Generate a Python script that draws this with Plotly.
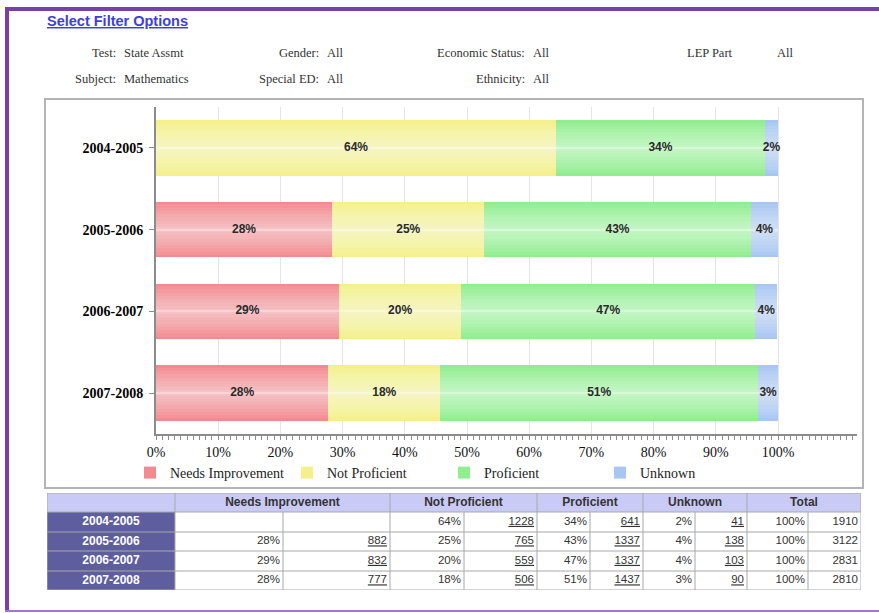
import numpy as np
import plotly.graph_objects as go

W, H = 879, 613


def px(x):
    return x / W


def py(y):
    return 1 - y / H


# ---------------- data ----------------
years = ["2004-2005", "2005-2006", "2006-2007", "2007-2008"]
levels = ["Needs Improvement", "Not Proficient", "Proficient", "Unknown"]

# bar lengths (percent of students)
needs_imp = [0.0, 28.3, 29.4, 27.7]
not_prof = [64.3, 24.5, 19.7, 18.0]
proficient = [33.6, 42.8, 47.2, 51.1]
unknown = [2.1, 4.4, 3.6, 3.2]

# segment labels / table percentages
needs_imp_pct = ["", "28%", "29%", "28%"]
not_prof_pct = ["64%", "25%", "20%", "18%"]
prof_pct = ["34%", "43%", "47%", "51%"]
unknown_pct = ["2%", "4%", "4%", "3%"]
total_pct = ["100%", "100%", "100%", "100%"]

# table counts
needs_imp_n = ["", "882", "832", "777"]
not_prof_n = ["1228", "765", "559", "506"]
prof_n = ["641", "1337", "1337", "1437"]
unknown_n = ["41", "138", "103", "90"]
total_n = ["1910", "3122", "2831", "2810"]

x_tick_vals = [0, 10, 20, 30, 40, 50, 60, 70, 80, 90, 100]
x_tick_text = ["0%", "10%", "20%", "30%", "40%", "50%", "60%", "70%", "80%", "90%", "100%"]

filter_labels_row1 = ["Test:", "Gender:", "Economic Status:", "LEP Part"]
filter_values_row1 = ["State Assmt", "All", "All", "All"]
filter_labels_row2 = ["Subject:", "Special ED:", "Ethnicity:"]
filter_values_row2 = ["Mathematics", "All", "All"]

table_groups = ["", "Needs Improvement", "Not Proficient", "Proficient", "Unknown", "Total"]

# ---------------- style ----------------
bar_colors = ["#F38A90", "#F5F08C", "#90EE90", "#A8C6F2"]
legend_ids = ["legend", "legend2", "legend3", "legend4"]
legend_x_px = [130, 287, 444, 600]
serif = "Liberation Serif"
sans = "Liberation Sans"

fig = go.Figure()

series = [needs_imp, not_prof, proficient, unknown]
seg_labels = [needs_imp_pct, not_prof_pct, prof_pct, unknown_pct]
arr = np.array(series)
starts = np.vstack([np.zeros(len(years)), np.cumsum(arr, axis=0)[:-1]])
totals = arr.sum(axis=0)

for i in range(len(levels)):
    fig.add_trace(go.Bar(
        y=years, x=series[i], base=starts[i], orientation="h", width=0.68,
        marker=dict(color=bar_colors[i], line=dict(width=0)),
        name=levels[i], legend=legend_ids[i], hoverinfo="skip",
    ))

# glossy highlight band through the middle of each bar
for w, op in [(0.62, 0.08), (0.54, 0.08), (0.46, 0.08), (0.38, 0.08), (0.30, 0.08),
              (0.22, 0.08), (0.14, 0.08), (0.07, 0.1), (0.025, 0.35)]:
    fig.add_trace(go.Bar(
        y=years, x=totals, base=0, orientation="h", width=w,
        marker=dict(color=f"rgba(255,255,255,{op})", line=dict(width=0)),
        showlegend=False, hoverinfo="skip",
    ))

mids = starts + arr / 2
for i in range(len(levels)):
    fig.add_trace(go.Scatter(
        x=mids[i], y=years, mode="text", text=seg_labels[i],
        textfont=dict(family=sans, size=12, color="#2A2A2A", weight="bold"),
        textposition="middle center", showlegend=False, hoverinfo="skip",
    ))

# ---------------- table (own axes: x2 / y2, pixel units) ----------------
col_widths = [128, 108, 107, 74, 73, 53, 53, 52, 52, 61, 53]
row_heights = [19, 20, 19, 20, 19]          # header + 4 year rows
col_edges = np.concatenate([[0], np.cumsum(col_widths)])
row_edges = np.concatenate([[0], np.cumsum(row_heights)])
tbl_w, tbl_h = col_edges[-1], row_edges[-1]
group_edges = col_edges[[0, 1, 3, 5, 7, 9, 11]]

# fill codes: 0 white, 1 year column, 2 header
fill_z = [[2] * 11] + [[1] + [0] * 10 for _ in years]
fig.add_trace(go.Heatmap(
    x=col_edges, y=row_edges, z=fill_z, zmin=0, zmax=2,
    colorscale=[[0, "#FFFFFF"], [0.5, "#5E5E9E"], [1, "#CACAF6"]],
    showscale=False, hoverinfo="skip", xaxis="x2", yaxis="y2",
))

# grid lines
gx, gy = [], []
for ye in row_edges:
    gx += [0, tbl_w, None]
    gy += [ye, ye, None]
for xe in col_edges:
    top = 0 if xe in group_edges else row_edges[1]
    gx += [xe, xe, None]
    gy += [top, tbl_h, None]
fig.add_trace(go.Scatter(
    x=gx, y=gy, mode="lines", line=dict(color="#A8A8A8", width=1),
    showlegend=False, hoverinfo="skip", xaxis="x2", yaxis="y2", cliponaxis=False,
))

row_mid = (row_edges[1:-1] + row_edges[2:]) / 2
# header group names
fig.add_trace(go.Scatter(
    x=(group_edges[1:] + group_edges[:-1])[1:] / 2, y=[row_heights[0] / 2] * 5,
    text=table_groups[1:], mode="text", textposition="middle center",
    textfont=dict(family=sans, size=12, color="#333333", weight="bold"),
    showlegend=False, hoverinfo="skip", xaxis="x2", yaxis="y2",
))
# year column
fig.add_trace(go.Scatter(
    x=[col_widths[0] / 2] * len(years), y=row_mid, text=years, mode="text",
    textposition="middle center",
    textfont=dict(family=sans, size=12, color="white", weight="bold"),
    showlegend=False, hoverinfo="skip", xaxis="x2", yaxis="y2",
))
pct_cols = [needs_imp_pct, not_prof_pct, prof_pct, unknown_pct, total_pct]
n_cols = [needs_imp_n, not_prof_n, prof_n, unknown_n, total_n]
for k in range(5):
    pct_right = col_edges[2 + 2 * k] - 3
    n_right = col_edges[3 + 2 * k] - 3
    fig.add_trace(go.Scatter(
        x=[pct_right] * len(years), y=row_mid, text=pct_cols[k], mode="text",
        textposition="middle left",
        textfont=dict(family=sans, size=11.5, color="#333333"),
        showlegend=False, hoverinfo="skip", xaxis="x2", yaxis="y2", cliponaxis=False,
    ))
    fig.add_trace(go.Scatter(
        x=[n_right] * len(years), y=row_mid, text=n_cols[k], mode="text",
        textposition="middle left",
        textfont=dict(family=sans, size=11.5, color="#333333",
                      lineposition="under" if k < 4 else "none"),
        showlegend=False, hoverinfo="skip", xaxis="x2", yaxis="y2", cliponaxis=False,
    ))

# ---------------- annotations ----------------
annotations = [
    dict(x=px(45), y=py(21), xref="paper", yref="paper", xanchor="left", yanchor="middle",
         text="<b>Select Filter Options</b>", showarrow=False,
         font=dict(family=sans, size=14.5, color="#3E3EE0", lineposition="under")),
]
ann_font = dict(family=serif, size=12.5, color="#333333")
row1_label_x = [118, 321, 527, 735]
row1_value_x = [122, 325, 531, 775]
for lab, val, lx, vx in zip(filter_labels_row1, filter_values_row1, row1_label_x, row1_value_x):
    annotations.append(dict(x=px(lx), y=py(53), xref="paper", yref="paper", xanchor="right",
                            yanchor="middle", text=lab, showarrow=False, font=ann_font))
    annotations.append(dict(x=px(vx), y=py(53), xref="paper", yref="paper", xanchor="left",
                            yanchor="middle", text=val, showarrow=False, font=ann_font))
row2_label_x = [118, 321, 527]
row2_value_x = [122, 325, 531]
for lab, val, lx, vx in zip(filter_labels_row2, filter_values_row2, row2_label_x, row2_value_x):
    annotations.append(dict(x=px(lx), y=py(79), xref="paper", yref="paper", xanchor="right",
                            yanchor="middle", text=lab, showarrow=False, font=ann_font))
    annotations.append(dict(x=px(vx), y=py(79), xref="paper", yref="paper", xanchor="left",
                            yanchor="middle", text=val, showarrow=False, font=ann_font))

shapes = [
    # chart frame
    dict(type="rect", xref="paper", yref="paper", x0=px(45), x1=px(863), y0=py(488), y1=py(99),
         line=dict(color="#B4B4B4", width=2), layer="below"),
    # purple page frame
    dict(type="line", xref="paper", yref="paper", x0=px(5), x1=1.0, y0=py(9), y1=py(9),
         line=dict(color="#7B3FAA", width=4)),
    dict(type="line", xref="paper", yref="paper", x0=px(7), x1=px(7), y0=py(8), y1=py(611),
         line=dict(color="#7B3FAA", width=4)),
    dict(type="line", xref="paper", yref="paper", x0=px(5), x1=1.0, y0=py(611), y1=py(611),
         line=dict(color="#A575CC", width=2)),
]

legend_common = dict(orientation="h", yanchor="middle", xanchor="left", y=py(473),
                     bgcolor="rgba(0,0,0,0)", font=dict(family=serif, size=14, color="#222222"))
legends = {}
for lid, lx in zip(legend_ids, legend_x_px):
    legends[lid] = dict(legend_common, x=px(lx))

fig.update_layout(
    width=W, height=H,
    margin=dict(l=0, r=0, t=0, b=0, pad=0, autoexpand=False),
    paper_bgcolor="white", plot_bgcolor="white",
    barmode="overlay", bargap=0,
    showlegend=True,
    xaxis=dict(
        domain=[px(156), px(857)], range=[0, 112.7], anchor="y", automargin=False,
        tickmode="array", tickvals=x_tick_vals, ticktext=x_tick_text,
        showgrid=True, gridcolor="#E4E4E4", gridwidth=1, zeroline=False,
        showline=True, linecolor="#8C8C8C", linewidth=2,
        ticks="outside", ticklen=4, tickcolor="#8C8C8C", tickwidth=1,
        minor=dict(tickmode="linear", tick0=0, dtick=1, ticks="outside", ticklen=4,
                   tickcolor="#8C8C8C", tickwidth=1, showgrid=False),
        tickfont=dict(family=serif, size=14, color="#111111"),
        fixedrange=True,
    ),
    yaxis=dict(
        domain=[py(434), py(107)], anchor="x", type="category", automargin=False,
        categoryorder="array", categoryarray=years, range=[3.5, -0.5],
        showline=True, linecolor="#8C8C8C", linewidth=2,
        ticks="outside", ticklen=5, tickcolor="#8C8C8C",
        showgrid=False, zeroline=False, ticklabelstandoff=3,
        tickfont=dict(family=serif, size=14, color="#000000", weight="bold"),
        fixedrange=True,
    ),
    xaxis2=dict(
        domain=[px(47), px(861)], range=[0, tbl_w], anchor="y2", visible=False,
        fixedrange=True, automargin=False,
    ),
    yaxis2=dict(
        domain=[py(590), py(493)], range=[tbl_h, 0], anchor="x2", visible=False,
        fixedrange=True, automargin=False,
    ),
    annotations=annotations,
    shapes=shapes,
    **legends,
)

fig.write_html("out.html", config={"displayModeBar": False},
               post_script="document.body.style.margin='0';")
